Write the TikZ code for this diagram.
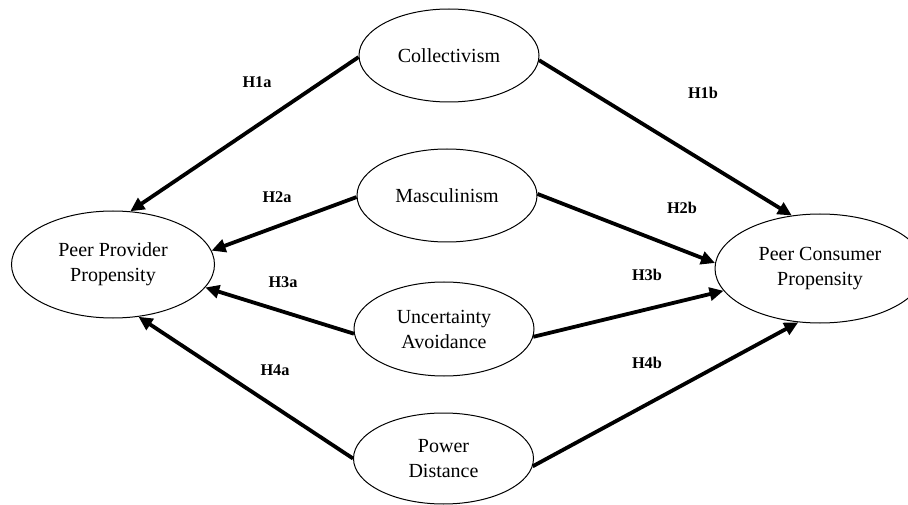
\documentclass[tikz,border=0pt]{standalone}
\usepackage{fontspec}
\setmainfont{Liberation Serif}
\usetikzlibrary{shapes.geometric,arrows.meta}
\begin{document}
\begin{tikzpicture}[x=1pt,y=-1pt,
  construct/.style={draw, ellipse, line width=1pt, inner sep=0pt, align=center,
    minimum width=180pt, minimum height=93pt,
    font=\fontsize{20}{25}\selectfont},
  path/.style={line width=3.8pt, -{Triangle[length=14pt,width=13pt]}},
  hyp/.style={font=\fontsize{16.3}{18}\selectfont\bfseries}]
\useasboundingbox (0,0) rectangle (908,505);
\node[construct] (col) at (449,55.5) {Collectivism};
\node[construct] (mas) at (447,195.5) {Masculinism};
\node[construct, minimum height=94pt] (unc) at (444,329) {Uncertainty\\Avoidance};
\node[construct, minimum height=91pt] (pow) at (443.5,458.5) {Power\\Distance};
\node[construct, minimum width=203pt, minimum height=107pt] (ppp) at (113,264.5) {Peer Provider\\Propensity};
\node[construct, minimum width=210pt, minimum height=109pt] (pcp) at (820,268.5) {Peer Consumer\\Propensity};

\draw[path] (col.181) -- (ppp.72.7);
\draw[path] (mas.181.6) -- (ppp.8.3);
\draw[path] (unc.183) -- (ppp.-14.6);
\draw[path] (pow.180.3) -- (ppp.-64.8);
\draw[path] (col.-3) -- (pcp.118.8);
\draw[path] (mas.1.6) -- (pcp.177);
\draw[path] (unc.-5.8) -- (pcp.193);
\draw[path] (pow.-5.5) -- (pcp.248.2);

\node[hyp] (h1a) at (257,82) {H1a};
\node[hyp] (h2a) at (277,197) {H2a};
\node[hyp] (h3a) at (283,282) {H3a};
\node[hyp] (h4a) at (275,370) {H4a};
\node[hyp] (h1b) at (703,93) {H1b};
\node[hyp] (h2b) at (682,208) {H2b};
\node[hyp] (h3b) at (647,275) {H3b};
\node[hyp] (h4b) at (647,363) {H4b};
\end{tikzpicture}
\end{document}
